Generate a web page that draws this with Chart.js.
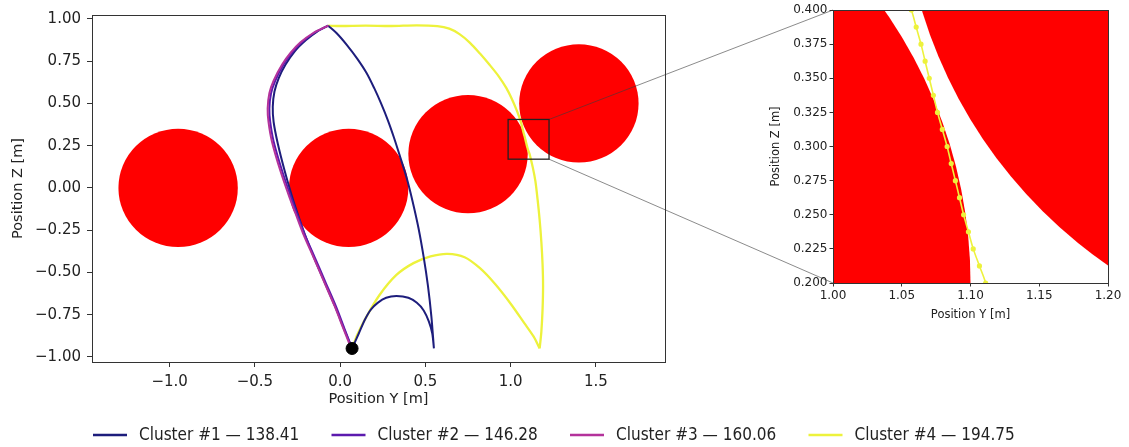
<!DOCTYPE html>
<html>
<head>
<meta charset="utf-8">
<script src="https://cdn.jsdelivr.net/npm/chart.js@4.4.1/dist/chart.umd.min.js"></script>
<style>
  html, body { margin: 0; padding: 0; background: #fff; }
  #wrap { position: relative; width: 1129px; height: 447px; overflow: hidden; }
  #main { position: absolute; left: 0; top: 0; }
  #zoom { position: absolute; top: 0; }
</style>
</head>
<body>
<div id="wrap">
  <canvas id="main" width="1129" height="447"></canvas>
  <canvas id="zoom" width="369" height="330"></canvas>
</div>
<script>
const clusterNames = ['Cluster #1 \u2014 138.41', 'Cluster #2 \u2014 146.28', 'Cluster #3 \u2014 160.06', 'Cluster #4 \u2014 194.75']
const clusterColors = ['#1d1d7c', '#5c1aae', '#b4329b', '#edf23c']

// obstacles: centre Y, centre Z, radius [m]
const obstacleY = [-0.95, 0.05, 0.75, 1.40]
const obstacleZ = [0.00, 0.00, 0.20, 0.50]
const obstacleR = [0.35, 0.35, 0.35, 0.35]

const startPoint = [0.07, -0.95]

// cluster #1 : up the left side, down between obstacles, arc back to start
const c1Left = [[0.07,-0.95],[0.025,-0.84],[-0.03,-0.70],[-0.09,-0.56],[-0.15,-0.42],[-0.205,-0.28],[-0.25,-0.15],[-0.285,-0.04],[-0.325,0.10],[-0.365,0.26],[-0.39,0.39],[-0.395,0.48],[-0.385,0.57],[-0.36,0.65],[-0.32,0.73],[-0.265,0.81],[-0.20,0.875],[-0.135,0.925],[-0.07,0.96]]
const c1Right = [[-0.07,0.96],[-0.02,0.915],[0.04,0.845],[0.10,0.765],[0.155,0.68],[0.20,0.59],[0.24,0.50],[0.28,0.40],[0.315,0.30],[0.35,0.19],[0.39,0.06],[0.425,-0.08],[0.46,-0.24],[0.49,-0.41],[0.515,-0.58],[0.535,-0.76],[0.55,-0.95]]
const c1Arc = [[0.55,-0.95],[0.54,-0.86],[0.52,-0.79],[0.49,-0.725],[0.45,-0.68],[0.40,-0.65],[0.33,-0.64],[0.27,-0.65],[0.22,-0.68],[0.18,-0.72],[0.145,-0.78],[0.11,-0.86],[0.07,-0.95]]

// cluster #2 and #3 : left side
const c2Left = [[0.07,-0.95],[0.028,-0.84],[-0.025,-0.70],[-0.085,-0.56],[-0.145,-0.42],[-0.21,-0.27],[-0.255,-0.15],[-0.283,-0.07],[-0.34,0.10],[-0.39,0.275],[-0.41,0.39],[-0.415,0.47],[-0.405,0.56],[-0.38,0.635],[-0.332,0.73],[-0.282,0.80],[-0.226,0.86],[-0.155,0.915],[-0.07,0.96]]
const c3Left = [[0.065,-0.95],[0.022,-0.84],[-0.032,-0.70],[-0.092,-0.56],[-0.152,-0.42],[-0.217,-0.27],[-0.262,-0.15],[-0.292,-0.07],[-0.35,0.10],[-0.40,0.275],[-0.42,0.39],[-0.425,0.47],[-0.415,0.56],[-0.39,0.635],[-0.34,0.73],[-0.29,0.80],[-0.234,0.86],[-0.16,0.915],[-0.07,0.96]]

// cluster #4 : wide arc to the right, up through the gap, across the top
const c4Arc = [[0.07,-0.95],[0.10,-0.87],[0.15,-0.77],[0.23,-0.635],[0.33,-0.515],[0.43,-0.445],[0.53,-0.405],[0.63,-0.39],[0.73,-0.41],[0.82,-0.475],[0.91,-0.57],[1.00,-0.685],[1.08,-0.80],[1.135,-0.88],[1.17,-0.95]]
const c4Up = [[1.17,-0.95],[1.18,-0.85],[1.187,-0.72],[1.19,-0.58],[1.187,-0.45],[1.18,-0.32],[1.17,-0.19],[1.158,-0.07],[1.145,0.04],[1.13,0.12],[1.111,0.20],[1.1065,0.2125],[1.102,0.225],[1.0985,0.2375],[1.095,0.25],[1.092,0.2625],[1.089,0.275],[1.086,0.2875],[1.083,0.30],[1.0795,0.3125],[1.076,0.325],[1.073,0.3375],[1.070,0.35],[1.067,0.3625],[1.064,0.375],[1.0605,0.3875],[1.057,0.40],[1.035,0.46],[1.005,0.53],[0.975,0.59],[0.93,0.66],[0.875,0.73],[0.82,0.795],[0.76,0.86],[0.70,0.91],[0.64,0.942],[0.57,0.957],[0.45,0.962],[0.30,0.958],[0.15,0.96],[0.0,0.958],[-0.07,0.96]]

const xTicks = [-1.0, -0.5, 0.0, 0.5, 1.0, 1.5]
const yTicks = [-1.0, -0.75, -0.5, -0.25, 0.0, 0.25, 0.5, 0.75, 1.0]
const zoomXTicks = [1.00, 1.05, 1.10, 1.15, 1.20]
const zoomYTicks = [0.200, 0.225, 0.250, 0.275, 0.300, 0.325, 0.350, 0.375, 0.400]
// zoom window as marked on the main plot: y0, y1, z0, z1
const zoomBox = [0.985, 1.225, 0.17, 0.405]

Chart.defaults.font.family = '"DejaVu Sans", sans-serif'
Chart.defaults.color = '#222'

const insetLeft = 760
document.getElementById('zoom').style.left = insetLeft + 'px'

const fmt = (v, d) => (v < 0 ? '\u2212' : '') + Math.abs(v).toFixed(d)

const pts = (legs) => {
  const out = []
  legs.forEach((leg, i) => {
    if (i > 0) out.push({ x: NaN, y: NaN })
    leg.forEach(([x, y]) => out.push({ x, y }))
  })
  return out
}

const obstacles = {
  id: 'obstacles',
  beforeDatasetsDraw(chart) {
    const { ctx, chartArea: a, scales: { x, y } } = chart
    ctx.save()
    ctx.beginPath()
    ctx.rect(a.left, a.top, a.right - a.left, a.bottom - a.top)
    ctx.clip()
    ctx.fillStyle = '#ff0000'
    obstacleY.forEach((cy, i) => {
      const px = x.getPixelForValue(cy)
      const py = y.getPixelForValue(obstacleZ[i])
      const rx = Math.abs(x.getPixelForValue(cy + obstacleR[i]) - px)
      const ry = Math.abs(y.getPixelForValue(obstacleZ[i] + obstacleR[i]) - py)
      ctx.beginPath()
      ctx.ellipse(px, py, rx, ry, 0, 0, Math.PI * 2)
      ctx.fill()
    })
    ctx.restore()
  }
}

const frame = {
  id: 'frame',
  afterDraw(chart) {
    const { ctx, chartArea: a } = chart
    ctx.save()
    ctx.strokeStyle = '#333'
    ctx.lineWidth = 1
    ctx.strokeRect(Math.round(a.left) + 0.5, Math.round(a.top) + 0.5, Math.round(a.right - a.left), Math.round(a.bottom - a.top))
    ctx.restore()
  }
}

function axes(xMin, xMax, yMin, yMax, s) {
  return {
    x: {
      type: 'linear', min: xMin, max: xMax,
      afterBuildTicks: (sc) => { sc.ticks = s.xt.map(v => ({ value: v })) },
      afterFit: (sc) => { sc.height = s.xh },
      ticks: { callback: v => fmt(v, s.xd), font: { size: s.fs }, padding: s.pad, autoSkip: false, maxRotation: 0 },
      grid: { drawOnChartArea: false, tickLength: s.tl, color: '#333' },
      border: { color: '#333' },
      title: { display: true, text: 'Position Y [m]', font: { size: s.ts }, padding: { top: 0, bottom: s.xtp } }
    },
    y: {
      type: 'linear', min: yMin, max: yMax,
      afterBuildTicks: (sc) => { sc.ticks = s.yt.map(v => ({ value: v })) },
      afterFit: (sc) => { sc.width = s.yw },
      ticks: { callback: v => fmt(v, s.yd), font: { size: s.fs }, padding: s.pad, autoSkip: false },
      grid: { drawOnChartArea: false, tickLength: s.tl, color: '#333' },
      border: { color: '#333' },
      title: { display: true, text: 'Position Z [m]', font: { size: s.ts }, padding: { top: s.ytp, bottom: 0 } }
    }
  }
}

// ---- inset (zoom) ----
const zoomChart = new Chart(document.getElementById('zoom'), {
  type: 'scatter',
  data: {
    datasets: [{
      label: clusterNames[3],
      data: pts([c4Arc, c4Up]),
      showLine: true,
      borderColor: clusterColors[3],
      backgroundColor: clusterColors[3],
      borderWidth: 1.6,
      pointRadius: 1.8,
      tension: 0.3
    }]
  },
  options: {
    responsive: false, animation: false, events: [],
    layout: { padding: { top: 10, right: 21, left: 0, bottom: 0 } },
    plugins: { legend: { display: false }, tooltip: { enabled: false } },
    scales: axes(1.0, 1.2, 0.2, 0.4, { xt: zoomXTicks, yt: zoomYTicks, xd: 2, yd: 3, fs: 12, ts: 11.5, pad: 2, tl: 3.5, xh: 47, yw: 73, xtp: 8, ytp: 9 })
  },
  plugins: [obstacles, frame]
})

// ---- main plot ----
const zoomMarks = {
  id: 'zoomMarks',
  afterDatasetsDraw(chart) {
    const { ctx, scales: { x, y } } = chart
    const l = x.getPixelForValue(zoomBox[0]), r = x.getPixelForValue(zoomBox[1])
    const t = y.getPixelForValue(zoomBox[3]), b = y.getPixelForValue(zoomBox[2])
    const za = zoomChart.chartArea
    ctx.save()
    ctx.strokeStyle = 'rgba(60,60,60,0.75)'
    ctx.lineWidth = 0.8
    ctx.beginPath()
    ctx.moveTo(r, t); ctx.lineTo(insetLeft + za.left, za.top)
    ctx.moveTo(r, b); ctx.lineTo(insetLeft + za.left, za.bottom)
    ctx.stroke()
    ctx.strokeStyle = '#222'
    ctx.lineWidth = 1.3
    ctx.strokeRect(l, t, r - l, b - t)
    ctx.restore()
  }
}

const clusterLegend = {
  id: 'clusterLegend',
  afterDraw(chart) {
    const { ctx } = chart
    const yMid = 435, x0 = 93, pitch = 238.5, lineLen = 34, gap = 12
    ctx.save()
    ctx.font = '17px "DejaVu Sans Condensed", "Liberation Sans Narrow", "DejaVu Sans", sans-serif'
    ctx.textBaseline = 'middle'
    ctx.fillStyle = '#222'
    clusterNames.forEach((name, i) => {
      const x = x0 + i * pitch
      ctx.strokeStyle = clusterColors[i]
      ctx.lineWidth = 2.5
      ctx.beginPath()
      ctx.moveTo(x, yMid); ctx.lineTo(x + lineLen, yMid)
      ctx.stroke()
      ctx.fillText(name, x + lineLen + gap, yMid + 1)
    })
    ctx.restore()
  }
}

const clusterLegs = [[c1Left, c1Right, c1Arc], [c2Left], [c3Left], [c4Arc, c4Up]]
const drawOrder = [3, 2, 1, 4]

const mainScales = axes(-1.455, 1.905, -1.03, 1.023, { xt: xTicks, yt: yTicks, xd: 1, yd: 2, fs: 15, ts: 14.5, pad: 6, tl: 5, xh: 46, yw: 92, xtp: 0, ytp: 10 })
mainScales.pad = {
  type: 'linear', position: 'right', display: true,
  afterFit: (sc) => { sc.width = 464 },
  ticks: { display: false }, grid: { display: false }, border: { display: false }
}

const mainChart = new Chart(document.getElementById('main'), {
  type: 'scatter',
  data: {
    datasets: clusterLegs.map((legs, i) => ({
      label: clusterNames[i],
      data: pts(legs),
      showLine: true,
      borderColor: clusterColors[i],
      backgroundColor: clusterColors[i],
      borderWidth: i === 3 ? 2.3 : 2,
      pointRadius: 0,
      tension: 0.3,
      order: drawOrder[i]
    })).concat([{
      label: 'start',
      data: [{ x: startPoint[0], y: startPoint[1] }],
      pointRadius: 6,
      backgroundColor: '#000',
      borderColor: '#000',
      order: 0
    }])
  },
  options: {
    responsive: false, animation: false, events: [],
    layout: { padding: { top: 12, left: 0, right: 0, bottom: 39 } },
    plugins: { legend: { display: false }, tooltip: { enabled: false } },
    scales: mainScales
  },
  plugins: [obstacles, frame, zoomMarks, clusterLegend]
})
</script>
</body>
</html>
